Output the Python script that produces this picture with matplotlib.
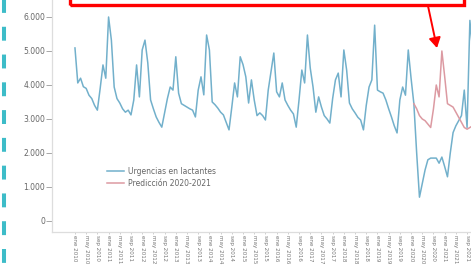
import numpy as np
import matplotlib
matplotlib.use('Agg')
import matplotlib.pyplot as plt
from matplotlib.lines import Line2D
from matplotlib.patches import Rectangle, FancyArrowPatch

plt.rcParams['lines.scale_dashes'] = False

# Urgencias en lactantes (mensual, desde ene 2010)
urgencias = [5090, 4060, 4200, 3950, 3900, 3700, 3600, 3400, 3260, 3900,
             4590, 4200, 6000, 5320, 3940, 3600, 3470, 3300, 3200, 3260,
             3120, 3560, 4590, 3650, 5030, 5320, 4650, 3560, 3300, 3060,
             2900, 2760, 3180, 3600, 3940, 3850, 4830, 3760, 3450, 3400,
             3350, 3300, 3260, 3060, 3850, 4240, 3710, 5470, 5030, 3500,
             3420, 3320, 3200, 3120, 2900, 2680, 3350, 4060, 3650, 4830,
             4600, 4240, 3470, 4150, 3560, 3100, 3180, 3100, 2970, 3850,
             4400, 4940, 3800, 3650, 4060, 3560, 3400, 3260, 3150, 2760,
             3560, 4440, 4060, 5470, 4500, 3940, 3200, 3650, 3350, 3100,
             3000, 2880, 3600, 4150, 4350, 3650, 5030, 4440, 3470, 3300,
             3180, 3050, 2970, 2680, 3400, 3940, 4150, 5760, 3850, 3800,
             3760, 3560, 3300, 3060, 2800, 2590, 3560, 3940, 3700, 5030,
             4200, 3450, 2000, 700, 1100, 1500, 1800, 1850, 1850, 1850,
             1700, 1880, 1600, 1300, 2000, 2600, 2800, 2950, 3100, 3850,
             2750, 5900, 5000]

# Predicción 2020-2021 (desde feb 2020)
pred_inicio = 121
prediccion = [3450, 3300, 3100, 3000, 2950, 2850, 2750, 3300, 4000, 3650,
              5000, 4250, 3450, 3400, 3350, 3200, 3050, 2900, 2750, 2700,
              2750, 2800]

meses = ['ene', 'may', 'sep']
x_ticks = list(range(0, 144, 4))
x_labels = [f'{meses[(m % 12) // 4]} {2010 + m // 12}' for m in x_ticks]
y_ticks = [0, 1000, 2000, 3000, 4000, 5000, 6000]
y_labels = ['0', '1.000', '2.000', '3.000', '4.000', '5.000', '6.000']

fig = plt.figure(figsize=(4.71, 2.68), dpi=100)
ax = fig.add_axes([52 / 471, 36 / 268, 1 - 52 / 471, 232 / 268])

x_u = np.arange(len(urgencias))
x_p = np.arange(pred_inicio, pred_inicio + len(prediccion))
ax.plot(x_u, urgencias, color='#72b0cb', lw=1.1, label='Urgencias en lactantes')
ax.plot(x_p, prediccion, color='#dc9aa2', lw=1.1, label='Predicción 2020-2021')

ax.set_xlim(-8.2, 141.4)
ax.set_ylim(-324, 6500)
ax.set_yticks(y_ticks)
ax.set_yticklabels(y_labels)
ax.set_xticks(x_ticks)
ax.set_xticklabels(x_labels, rotation=-90)
ax.tick_params(axis='y', labelsize=5.5, colors='#999999', labelcolor='#666666', length=4, width=0.6, pad=1)
ax.tick_params(axis='x', labelsize=4.1, colors='#bbbbbb', labelcolor='#777777', length=1.5, width=0.5, pad=1)
for s in ['top', 'right']:
    ax.spines[s].set_visible(False)
for s in ['left', 'bottom']:
    ax.spines[s].set_color('#dddddd')
    ax.spines[s].set_linewidth(0.9)

ax.legend(loc='upper left', bbox_to_anchor=((100 - 52) / 419, (232 - 160) / 232),
          frameon=False, fontsize=5.5, handlelength=2.2, handletextpad=0.5,
          labelspacing=0.4, labelcolor='#666666')

# anotaciones sobre la captura
fig.add_artist(Rectangle((69.5 / 471, 1 - 4.5 / 268), (464 - 69.5) / 471, 0.1,
                         transform=fig.transFigure, fill=False, edgecolor='#ff0000', lw=2.4))
fig.add_artist(FancyArrowPatch((428 / 471, 1 - 6 / 268), (437 / 471, 1 - 48 / 268),
                               transform=fig.transFigure, color='#ff0000', lw=1.4,
                               arrowstyle='-|>,head_length=6,head_width=3.5',
                               shrinkA=0, shrinkB=0))
fig.add_artist(Line2D([3.5 / 471, 3.5 / 471], [1.03, 0], transform=fig.transFigure,
                      color='#3dbcc8', lw=2.9, dashes=(10, 10)))

fig.savefig('out.png', dpi=100)
